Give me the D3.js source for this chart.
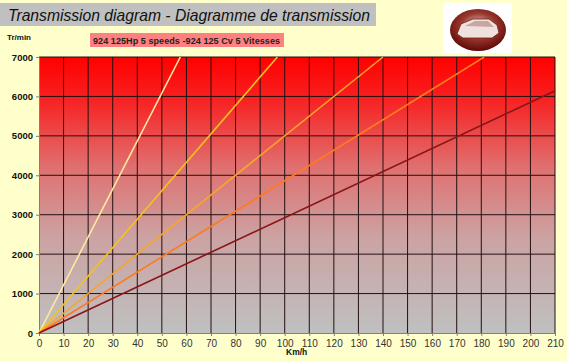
<!DOCTYPE html>
<html>
<head>
<meta charset="utf-8">
<script src="https://cdn.jsdelivr.net/npm/d3@7"></script>
<style>
  body { margin: 0; background: #ffffcc; }
  svg { display: block; font-family: Arial, "Liberation Sans", sans-serif; }
</style>
</head>
<body>
<div id="chart"></div>
<script>
// chart data: each gear is a straight line from 0 to its end point
const gears = ["1st", "2nd", "3rd", "4th", "5th"];
const endSpeed = [57.5, 97, 140, 181.2, 210];   // km/h
const endRpm = [7000, 7000, 7000, 7000, 6145];   // tr/min
const xTicks = d3.range(0, 211, 10);
const yTicks = d3.range(0, 7001, 1000);

const title = "Transmission diagram - Diagramme de transmission";
const subtitle = "924 125Hp 5 speeds -924 125 Cv 5 Vitesses";

const width = 567, height = 362;
const margin = { top: 57, right: 12, bottom: 29, left: 39 };

const colors = ["#ffe9a0", "#f4c21c", "#f7a52a", "#ff7a1e", "#8a1418"];

const svg = d3.select("#chart").append("svg")
    .attr("width", width)
    .attr("height", height);

svg.append("rect").attr("width", width).attr("height", height).attr("fill", "#ffffcc");

const x = d3.scaleLinear().domain([0, 210]).range([margin.left, width - margin.right]);
const y = d3.scaleLinear().domain([0, 7000]).range([height - margin.bottom, margin.top]);

// background gradient red -> gray
const defs = svg.append("defs");
const grad = defs.append("linearGradient").attr("id", "bg")
    .attr("x1", 0).attr("y1", 0).attr("x2", 0).attr("y2", 1);
grad.append("stop").attr("offset", "0%").attr("stop-color", "#ff0000");
grad.append("stop").attr("offset", "15%").attr("stop-color", "#f82020");
grad.append("stop").attr("offset", "40%").attr("stop-color", "#e07070");
grad.append("stop").attr("offset", "65%").attr("stop-color", "#cca2a2");
grad.append("stop").attr("offset", "100%").attr("stop-color", "#bfc0c0");

const eg = defs.append("radialGradient").attr("id", "logo")
    .attr("cx", "50%").attr("cy", "40%").attr("r", "60%");
eg.append("stop").attr("offset", "0%").attr("stop-color", "#e8cfcb");
eg.append("stop").attr("offset", "50%").attr("stop-color", "#9a3a30");
eg.append("stop").attr("offset", "100%").attr("stop-color", "#600806");

svg.append("rect")
    .attr("x", x(0)).attr("y", y(7000))
    .attr("width", x(210) - x(0)).attr("height", y(0) - y(7000))
    .attr("fill", "url(#bg)");

// grid
svg.append("g").selectAll("line.v")
    .data(xTicks.filter(d => d > 0))
    .join("line")
    .attr("x1", d => x(d)).attr("x2", d => x(d))
    .attr("y1", y(7000)).attr("y2", y(0))
    .attr("stroke", "#241010").attr("stroke-width", 1);

svg.append("g").selectAll("line.h")
    .data(yTicks.filter(d => d > 0))
    .join("line")
    .attr("x1", x(0)).attr("x2", x(210))
    .attr("y1", d => y(d)).attr("y2", d => y(d))
    .attr("stroke", "#241010").attr("stroke-width", 1);

// axes
const xAxis = svg.append("g")
    .attr("transform", `translate(0,${y(0)})`)
    .call(d3.axisBottom(x).tickValues(xTicks).tickSize(3).tickPadding(4));
xAxis.select(".domain").attr("stroke", "#808080");
xAxis.selectAll("line").attr("stroke", "#808080");
xAxis.selectAll("text").attr("font-size", 10).attr("fill", "#333")
    .attr("font-family", "Arial, 'Liberation Sans', sans-serif");

const yAxis = svg.append("g")
    .attr("transform", `translate(${x(0)},0)`)
    .call(d3.axisLeft(y).tickValues(yTicks).tickFormat(d3.format("d")).tickSize(3).tickPadding(3));
yAxis.select(".domain").attr("stroke", "#808080");
yAxis.selectAll("line").attr("stroke", "#808080");
yAxis.selectAll("text").attr("font-size", 9.5).attr("font-weight", "bold").attr("fill", "#111")
    .attr("font-family", "Arial, 'Liberation Sans', sans-serif");

// gear lines
const line = d3.line().x(d => x(d[0])).y(d => y(d[1]));
svg.append("g").selectAll("path")
    .data(gears.map((g, i) => [[0, 0], [endSpeed[i], endRpm[i]]]))
    .join("path")
    .attr("d", line)
    .attr("fill", "none")
    .attr("stroke", (d, i) => colors[i])
    .attr("stroke-width", 1.6);

// axis titles
svg.append("text").attr("x", 7).attr("y", 40)
    .attr("font-size", 8).attr("font-weight", "bold").attr("fill", "#111")
    .text("Tr/min");
svg.append("text").attr("x", 286).attr("y", 355)
    .attr("font-size", 8.5).attr("font-weight", "bold").attr("fill", "#111")
    .text("Km/h");

// title bar
svg.append("rect").attr("x", 0).attr("y", 3).attr("width", 376).attr("height", 23)
    .attr("fill", "#c0c0c0");
svg.append("text").attr("x", 8).attr("y", 21)
    .attr("font-size", 17).attr("font-style", "italic").attr("fill", "#111")
    .attr("textLength", 362).attr("lengthAdjust", "spacingAndGlyphs")
    .text(title);

// subtitle box
svg.append("rect").attr("x", 90).attr("y", 33).attr("width", 194).attr("height", 14)
    .attr("fill", "#ff8080");
svg.append("text").attr("x", 93).attr("y", 43.5)
    .attr("font-size", 9).attr("font-weight", "bold").attr("fill", "#222")
    .attr("textLength", 187).attr("lengthAdjust", "spacing")
    .text(subtitle);

// logo
const logo = svg.append("g");
logo.append("rect").attr("x", 443).attr("y", 3).attr("width", 69).attr("height", 50).attr("fill", "#fff");
logo.append("ellipse").attr("cx", 478).attr("cy", 30).attr("rx", 28).attr("ry", 21)
    .attr("fill", "url(#logo)");
logo.append("path")
    .attr("d", "M457,34 L461,24 L473,19 L489,19 L497,25 L499,33 L492,38 L463,38 Z")
    .attr("fill", "#efe2de").attr("stroke", "#7a1a14").attr("stroke-width", 0.8);
logo.append("path")
    .attr("d", "M465,26 L475,21 L488,21 L494,27 Z")
    .attr("fill", "#c9a7a0");
</script>
</body>
</html>
